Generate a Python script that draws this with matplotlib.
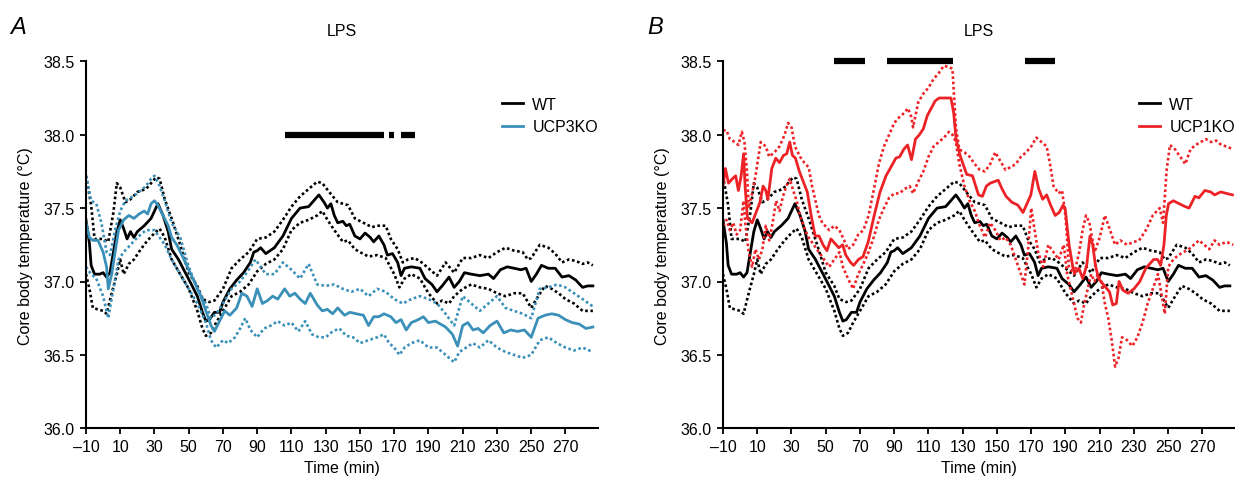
import numpy as np
import matplotlib
matplotlib.use("Agg")
import matplotlib.pyplot as plt

plt.rcParams['font.family'] = ['Liberation Sans', 'DejaVu Sans']

# ---- data ----
xtick_vals = [-10, 10, 30, 50, 70, 90, 110, 130, 150, 170, 190, 210, 230, 250, 270]
xtick_labels = ['\u201310', '10', '30', '50', '70', '90', '110', '130', '150',
                '170', '190', '210', '230', '250', '270']
ytick_vals = [36.0, 36.5, 37.0, 37.5, 38.0, 38.5]

# WT (same trace in both panels)
t_wt = [-10, -8, -7, -5, -2, 0, 2, 4, 6, 8,
        10, 12, 14, 16, 18, 20, 24, 28, 32, 35,
        38, 40, 44, 48, 52, 55, 58, 60, 62, 65,
        68, 70, 74, 78, 82, 86, 88, 90, 92, 95,
        100, 105, 110, 115, 120, 123, 126, 129, 131, 133,
        135, 137, 140, 142, 144, 147, 150, 153, 156, 158,
        161, 164, 166, 169, 172, 174, 176, 180, 185, 188,
        192, 195, 198, 202, 205, 208, 211, 215, 220, 225,
        228, 232, 236, 240, 244, 247, 250, 253, 256, 260,
        264, 268, 272, 276, 280, 283, 286]
wt_mean = [37.42, 37.26, 37.11, 37.05, 37.05, 37.06, 37.03, 37.06, 37.20, 37.34,
           37.42, 37.36, 37.29, 37.34, 37.30, 37.34, 37.38, 37.43, 37.53, 37.45,
           37.34, 37.22, 37.15, 37.06, 36.97, 36.90, 36.79, 36.73, 36.74, 36.79,
           36.79, 36.86, 36.95, 37.01, 37.06, 37.13, 37.20, 37.21, 37.23, 37.19,
           37.23, 37.31, 37.43, 37.50, 37.51, 37.55, 37.59, 37.54, 37.50, 37.53,
           37.45, 37.40, 37.41, 37.38, 37.39, 37.31, 37.29, 37.33, 37.30, 37.27,
           37.31, 37.25, 37.18, 37.19, 37.13, 37.04, 37.09, 37.10, 37.09, 37.02,
           36.98, 36.93, 36.97, 37.03, 36.96, 37.00, 37.06, 37.05, 37.04, 37.05,
           37.02, 37.08, 37.10, 37.09, 37.08, 37.09, 37.00, 37.05, 37.11, 37.09,
           37.09, 37.03, 37.04, 37.01, 36.96, 36.97, 36.97]

t_wt_hi = [-10, -7, -5, 0, 3, 6, 8, 10, 13, 16,
           20, 25, 28, 31, 33, 36, 40, 45, 50, 55,
           58, 62, 65, 70, 75, 80, 85, 90, 95, 100,
           105, 110, 115, 120, 125, 128, 132, 137, 140, 143,
           147, 152, 157, 160, 165, 168, 172, 175, 178, 182,
           186, 190, 195, 200, 205, 210, 215, 220, 225, 230,
           235, 240, 245, 248, 250, 255, 260, 264, 268, 272,
           276, 280, 283, 286]
wt_hi = [37.72, 37.52, 37.29, 37.29, 37.27, 37.47, 37.67, 37.64, 37.54, 37.56,
         37.61, 37.63, 37.67, 37.71, 37.70, 37.56, 37.43, 37.25, 37.06, 36.97,
         36.88, 36.86, 36.87, 36.95, 37.09, 37.15, 37.20, 37.29, 37.30, 37.34,
         37.42, 37.51, 37.58, 37.63, 37.68, 37.67, 37.61, 37.54, 37.53, 37.52,
         37.43, 37.40, 37.37, 37.38, 37.38, 37.29, 37.22, 37.13, 37.15, 37.16,
         37.13, 37.09, 37.04, 37.13, 37.06, 37.16, 37.16, 37.18, 37.16, 37.20,
         37.23, 37.21, 37.20, 37.15, 37.16, 37.25, 37.23, 37.19, 37.13, 37.15,
         37.14, 37.12, 37.13, 37.11]

t_wt_lo = [-10, -8, -6, 0, 2, 5, 8, 10, 12, 15,
           18, 22, 26, 30, 33, 36, 40, 45, 50, 55,
           58, 60, 63, 66, 70, 75, 80, 85, 90, 95,
           100, 105, 110, 115, 120, 125, 128, 131, 135, 140,
           143, 147, 150, 155, 160, 165, 170, 173, 176, 180,
           185, 190, 195, 198, 202, 205, 210, 215, 220, 225,
           230, 235, 240, 245, 250, 253, 258, 262, 266, 270,
           275, 280, 286]
wt_lo = [37.05, 36.95, 36.82, 36.80, 36.78, 36.92, 37.05, 37.15, 37.05, 37.12,
         37.15, 37.22, 37.28, 37.33, 37.36, 37.30, 37.15, 37.05, 36.95, 36.80,
         36.68, 36.63, 36.65, 36.72, 36.80, 36.90, 36.93, 36.98, 37.07, 37.12,
         37.15, 37.22, 37.35, 37.40, 37.42, 37.45, 37.48, 37.42, 37.35, 37.27,
         37.28, 37.22, 37.20, 37.17, 37.18, 37.16, 37.05, 36.96, 37.02, 37.05,
         37.02, 36.92, 36.85, 36.87, 36.85, 36.90, 36.95, 36.98, 36.96, 36.95,
         36.92, 36.90, 36.92, 36.92, 36.82, 36.88, 36.97, 36.95, 36.92, 36.88,
         36.85, 36.80, 36.80]

# UCP3KO (panel A)
t_u3 = [-10, -8, -6, -3, 0, 2, 3, 5, 7, 9,
        12, 15, 18, 21, 24, 26, 28, 30, 32, 35,
        38, 40, 43, 46, 50, 54, 57, 60, 63, 65,
        68, 71, 74, 78, 81, 84, 87, 90, 93, 96,
        99, 102, 106, 109, 112, 115, 118, 121, 125, 128,
        131, 134, 137, 141, 144, 148, 152, 155, 158, 161,
        164, 168, 171, 174, 177, 180, 184, 187, 190, 194,
        197, 200, 204, 207, 210, 213, 216, 219, 222, 226,
        230, 234, 238, 242, 246, 250, 254, 258, 262, 266,
        270, 274, 278, 282, 286]
u3_mean = [37.40, 37.30, 37.28, 37.28, 37.20, 37.10, 36.95, 37.05, 37.20, 37.35,
           37.42, 37.45, 37.43, 37.46, 37.48, 37.46, 37.53, 37.55, 37.52, 37.45,
           37.38, 37.30, 37.25, 37.18, 37.08, 36.98, 36.90, 36.80, 36.70, 36.66,
           36.73, 36.80, 36.77, 36.82, 36.92, 36.90, 36.83, 36.95, 36.85, 36.87,
           36.90, 36.88, 36.95, 36.90, 36.92, 36.88, 36.85, 36.92, 36.84, 36.80,
           36.81, 36.78, 36.82, 36.77, 36.79, 36.78, 36.77, 36.70, 36.76, 36.76,
           36.78, 36.76, 36.72, 36.74, 36.67, 36.72, 36.74, 36.76, 36.72, 36.73,
           36.71, 36.69, 36.64, 36.56, 36.70, 36.72, 36.67, 36.68, 36.65, 36.70,
           36.73, 36.65, 36.67, 36.66, 36.67, 36.62, 36.75, 36.77, 36.78, 36.77,
           36.74, 36.72, 36.71, 36.68, 36.69]

t_u3_hi = [-10, -7, -4, -1, 2, 4, 7, 10, 13, 16,
           20, 25, 28, 30, 33, 36, 40, 45, 50, 55,
           60, 63, 66, 70, 75, 80, 85, 89, 92, 95,
           100, 105, 110, 115, 120, 125, 130, 135, 140, 145,
           150, 155, 160, 165, 170, 175, 180, 185, 190, 195,
           200, 205, 210, 215, 220, 225, 230, 235, 240, 245,
           250, 255, 260, 265, 270, 275, 280, 286]
u3_hi = [37.72, 37.55, 37.53, 37.40, 37.20, 37.18, 37.35, 37.48, 37.55, 37.57,
         37.60, 37.65, 37.70, 37.72, 37.65, 37.55, 37.40, 37.30, 37.10, 36.95,
         36.85, 36.75, 36.78, 36.85, 36.95, 37.00, 37.08, 37.15, 37.10, 37.05,
         37.05, 37.13, 37.08, 37.02, 37.12, 36.98, 36.97, 36.98, 36.95, 36.93,
         36.95, 36.90, 36.95, 36.93, 36.88, 36.85, 36.88, 36.90, 36.88, 36.85,
         36.78, 36.70, 36.90, 36.85, 36.80, 36.85, 36.90, 36.82, 36.80, 36.78,
         36.75, 36.95, 36.96, 36.98, 36.96, 36.92, 36.88, 36.83]

t_u3_lo = [-10, -7, -4, 0, 2, 3, 6, 9, 12, 16,
           20, 25, 30, 33, 36, 40, 45, 50, 55, 60,
           63, 66, 70, 73, 77, 80, 83, 86, 90, 94,
           98, 102, 106, 110, 114, 118, 122, 126, 130, 134,
           138, 142, 146, 150, 155, 160, 164, 167, 170, 173,
           176, 180, 185, 190, 195, 200, 205, 208, 212, 216,
           220, 225, 230, 235, 240, 245, 250, 255, 260, 265,
           270, 275, 280, 286]
u3_lo = [37.10, 37.05, 37.02, 36.90, 36.80, 36.75, 36.95, 37.15, 37.20, 37.25,
         37.30, 37.35, 37.35, 37.30, 37.25, 37.15, 37.05, 36.95, 36.85, 36.72,
         36.60, 36.55, 36.60, 36.58, 36.62, 36.68, 36.75, 36.67, 36.62, 36.68,
         36.70, 36.73, 36.70, 36.72, 36.66, 36.73, 36.64, 36.62, 36.62, 36.66,
         36.68, 36.63, 36.62, 36.58, 36.60, 36.62, 36.64, 36.58, 36.55, 36.50,
         36.55, 36.58, 36.60, 36.55, 36.55, 36.50, 36.45, 36.52, 36.55, 36.58,
         36.55, 36.60, 36.55, 36.52, 36.50, 36.48, 36.50, 36.60, 36.62, 36.58,
         36.55, 36.53, 36.55, 36.52]

# UCP1KO (panel B)
t_u1 = [-10, -8.6, -6.8, -4.5, -2.6, -1, 0.6, 2, 2.9, 4.3,
        7, 9.3, 11.6, 13.4, 15, 16.2, 18.5, 20.8, 23, 25.4,
        27.2, 29, 30.5, 32.3, 34.6, 36.9, 39.2, 41.5, 43.8, 46.1,
        48.4, 50.7, 53, 55.3, 57.6, 59.9, 61.7, 64.5, 66.3, 69.1,
        71.8, 74.8, 78.3, 81.7, 85.2, 88.6, 90.9, 93.2, 95.5, 97.8,
        100.1, 102.4, 104.7, 107, 109.3, 111.6, 113.9, 116.2, 119.7, 123.1,
        124.7, 126.1, 128.4, 131.1, 132.3, 135.7, 139.2, 141.5, 143.8, 146.1,
        148.4, 150.7, 153, 155.3, 158.7, 162.2, 165.2, 167.9, 169.8, 172.1,
        174.4, 176.7, 179, 181.3, 184, 186.3, 188.6, 189.8, 192.1, 194.4,
        195.5, 197.8, 200.1, 202.4, 204.3, 205.9, 207.5, 209.3, 212.8, 215.7,
        217.6, 219.7, 221.3, 223.6, 226.6, 230, 233.4, 236.9, 239.2, 241.5,
        243.8, 245.6, 247.5, 248.9, 250.2, 253, 256.4, 259.9, 262.2, 265.6,
        267.9, 271.4, 274.8, 277.1, 280.6, 284, 287.5]
u1_mean = [37.65, 37.77, 37.67, 37.70, 37.72, 37.62, 37.72, 37.87, 37.65, 37.43,
           37.40, 37.47, 37.54, 37.65, 37.62, 37.56, 37.77, 37.84, 37.81, 37.86,
           37.87, 37.95, 37.86, 37.84, 37.75, 37.68, 37.61, 37.45, 37.31, 37.31,
           37.25, 37.21, 37.29, 37.26, 37.23, 37.25, 37.18, 37.13, 37.11, 37.15,
           37.17, 37.27, 37.45, 37.61, 37.72, 37.79, 37.84, 37.85, 37.90, 37.93,
           37.83, 37.97, 38.00, 38.04, 38.13, 38.18, 38.23, 38.25, 38.25, 38.25,
           38.15, 37.97, 37.86, 37.77, 37.73, 37.72, 37.59, 37.58, 37.65, 37.67,
           37.68, 37.69, 37.63, 37.58, 37.54, 37.52, 37.47, 37.54, 37.59, 37.75,
           37.63, 37.56, 37.59, 37.52, 37.45, 37.47, 37.52, 37.50, 37.25, 37.09,
           37.06, 37.09, 37.02, 37.11, 37.31, 37.25, 37.11, 37.02, 36.97, 36.93,
           36.84, 36.85, 37.00, 36.94, 36.92, 36.95, 37.00, 37.09, 37.12, 37.15,
           37.15, 37.11, 37.25, 37.45, 37.53, 37.55, 37.53, 37.51, 37.50, 37.58,
           37.57, 37.62, 37.61, 37.59, 37.61, 37.60, 37.59]

t_u1_hi = [-10, -8, -6, -3, -1, 1, 2.5, 4, 5, 7,
           9, 12, 15, 17, 20, 23, 26, 28, 30, 32,
           35, 38, 40, 42, 44, 46, 48, 52, 55, 58,
           60, 63, 66, 69, 72, 75, 78, 81, 84, 87,
           90, 93, 96, 98, 100, 101, 104, 107, 110, 113,
           116, 119, 122, 124, 126, 128, 131, 134, 137, 140,
           143, 146, 149, 152, 155, 158, 161, 164, 167, 170,
           173, 176, 179, 181, 183, 186, 188, 190, 192, 195,
           198, 200, 202, 204, 207, 210, 213, 216, 219, 222,
           226, 230, 233, 237, 241, 245, 247, 249, 251, 254,
           257, 260, 263, 266, 269, 272, 275, 278, 281, 284,
           288]
u1_hi = [38.03, 38.03, 37.97, 37.95, 37.93, 38.02, 37.95, 37.75, 37.50, 37.60,
         37.72, 37.95, 37.92, 37.85, 37.88, 37.92, 38.00, 38.08, 38.05, 37.92,
         37.85, 37.80, 37.78, 37.65, 37.55, 37.45, 37.40, 37.35, 37.38, 37.35,
         37.30, 37.22, 37.25, 37.32, 37.35, 37.45, 37.62, 37.80, 37.92, 38.00,
         38.08, 38.12, 38.15, 38.18, 38.12, 38.05, 38.22, 38.28, 38.32, 38.38,
         38.42, 38.47, 38.46, 38.45, 38.05, 37.90, 37.88, 37.85, 37.80, 37.76,
         37.75, 37.80, 37.88, 37.82, 37.76, 37.78, 37.80, 37.85, 37.88, 37.92,
         37.98, 37.95, 37.92, 37.80, 37.65, 37.60, 37.62, 37.45, 37.10, 37.05,
         37.20, 37.35, 37.45, 37.40, 37.20, 37.30, 37.45, 37.35, 37.25, 37.28,
         37.25, 37.27, 37.28, 37.35, 37.45, 37.50, 37.40, 37.75, 37.93, 37.90,
         37.85, 37.80, 37.90, 37.93, 37.95, 37.97, 37.95, 37.96, 37.93, 37.92,
         37.90]

t_u1_lo = [-10, -8, -6, -4, -2, 0, 2, 3, 5, 7,
           9, 11, 13, 15, 17, 19, 21, 23, 25, 27,
           29, 31, 33, 35, 38, 40, 43, 46, 49, 52,
           55, 58, 60, 63, 66, 69, 72, 75, 78, 81,
           84, 87, 90, 93, 96, 99, 101, 104, 107, 110,
           113, 116, 119, 122, 124, 126, 128, 131, 134, 137,
           140, 143, 146, 149, 152, 155, 158, 161, 164, 166,
           168, 170, 172, 174, 177, 180, 183, 186, 189, 191,
           193, 195, 197, 199, 201, 203, 205, 207, 209, 211,
           213, 215, 217, 219, 221, 223, 226, 229, 232, 235,
           238, 241, 244, 247, 248, 250, 253, 256, 259, 262,
           265, 268, 271, 274, 277, 280, 284, 288]
u1_lo = [37.38, 37.42, 37.35, 37.40, 37.32, 37.35, 37.55, 37.40, 37.20, 37.10,
         37.22, 37.15, 37.22, 37.38, 37.28, 37.40, 37.55, 37.48, 37.58, 37.65,
         37.70, 37.62, 37.55, 37.45, 37.35, 37.30, 37.25, 37.20, 37.15, 37.10,
         37.15, 37.20, 37.10, 37.02, 36.95, 37.05, 37.12, 37.20, 37.30, 37.42,
         37.50, 37.57, 37.60, 37.60, 37.63, 37.65, 37.60, 37.68, 37.75, 37.85,
         37.92, 37.95, 37.98, 38.02, 38.00, 37.95, 37.80, 37.65, 37.55, 37.48,
         37.38, 37.30, 37.40, 37.35, 37.28, 37.30, 37.25, 37.15, 37.05, 36.98,
         37.20, 37.50, 37.35, 37.20, 37.10, 37.25, 37.20, 37.15, 37.25, 37.05,
         36.95, 36.85, 36.75, 36.72, 36.85, 36.95, 37.05, 37.00, 37.05, 37.00,
         36.85, 36.75, 36.60, 36.42, 36.48, 36.62, 36.60, 36.56, 36.62, 36.72,
         36.85, 36.95, 37.05, 36.85, 36.78, 37.10, 37.15, 37.18, 37.20, 37.22,
         37.25, 37.28, 37.25, 37.22, 37.28, 37.25, 37.27, 37.25]

# significance bars (start, end) in minutes
sig_a = [(106, 164), (167, 170), (174, 182)]
sig_a_y = 38.0
sig_b = [(55, 73), (86, 124.5), (166.5, 184)]
sig_b_y = 38.5

# ---- plotting ----
blue = '#3a90b8'
red = '#ec2227'
dotted = (0, (1, 1))

fig = plt.figure(figsize=(12.35, 4.81), dpi=100)
ax_a = fig.add_axes([86 / 1235, 1 - 429.3 / 481, 512 / 1235, (429.3 - 62.3) / 481])
ax_b = fig.add_axes([723 / 1235, 1 - 429.3 / 481, 512 / 1235, (429.3 - 62.3) / 481])


def draw_group(ax, t_m, m, t_h, h, t_l, l, color, label):
    ax.plot(t_h, h, color=color, lw=1.9, ls=dotted)
    ax.plot(t_l, l, color=color, lw=1.9, ls=dotted)
    ax.plot(t_m, m, color=color, lw=2.0, label=label)


draw_group(ax_a, t_wt, wt_mean, t_wt_hi, wt_hi, t_wt_lo, wt_lo, 'black', 'WT')
draw_group(ax_a, t_u3, u3_mean, t_u3_hi, u3_hi, t_u3_lo, u3_lo, blue, 'UCP3KO')
draw_group(ax_b, t_wt, wt_mean, t_wt_hi, wt_hi, t_wt_lo, wt_lo, 'black', 'WT')
draw_group(ax_b, t_u1, u1_mean, t_u1_hi, u1_hi, t_u1_lo, u1_lo, red, 'UCP1KO')

for x0, x1 in sig_a:
    ax_a.plot([x0, x1], [sig_a_y, sig_a_y], color='black', lw=4.5,
              solid_capstyle='butt', clip_on=False)
for x0, x1 in sig_b:
    ax_b.plot([x0, x1], [sig_b_y, sig_b_y], color='black', lw=4.5,
              solid_capstyle='butt', clip_on=False)

for ax, letter in [(ax_a, 'A'), (ax_b, 'B')]:
    ax.set_xlim(-10, 289)
    ax.set_ylim(36.0, 38.5)
    ax.set_xticks(xtick_vals)
    ax.set_xticklabels(xtick_labels)
    ax.set_yticks(ytick_vals)
    ax.set_yticklabels(['%.1f' % v for v in ytick_vals])
    ax.spines['top'].set_visible(False)
    ax.spines['right'].set_visible(False)
    ax.spines['left'].set_linewidth(1.5)
    ax.spines['bottom'].set_linewidth(1.5)
    ax.tick_params(direction='out', length=4, width=1.3, labelsize=11.5, pad=4)
    ax.set_xlabel('Time (min)', fontsize=11.5, labelpad=4)
    ax.set_ylabel('Core body temperature (\u00b0C)', fontsize=11.5, labelpad=8)
    ax.set_title('LPS', fontsize=11.5, pad=19)
    ax.text(-0.148, 1.095, letter, transform=ax.transAxes, fontsize=17,
            style='italic', ha='left', va='center')
    ax.legend(loc='upper left', bbox_to_anchor=(0.80, 0.92), frameon=False,
              fontsize=11.5, handlelength=1.3, handletextpad=0.6,
              labelspacing=0.45, borderaxespad=0)

fig.savefig('out.png', dpi=100)
